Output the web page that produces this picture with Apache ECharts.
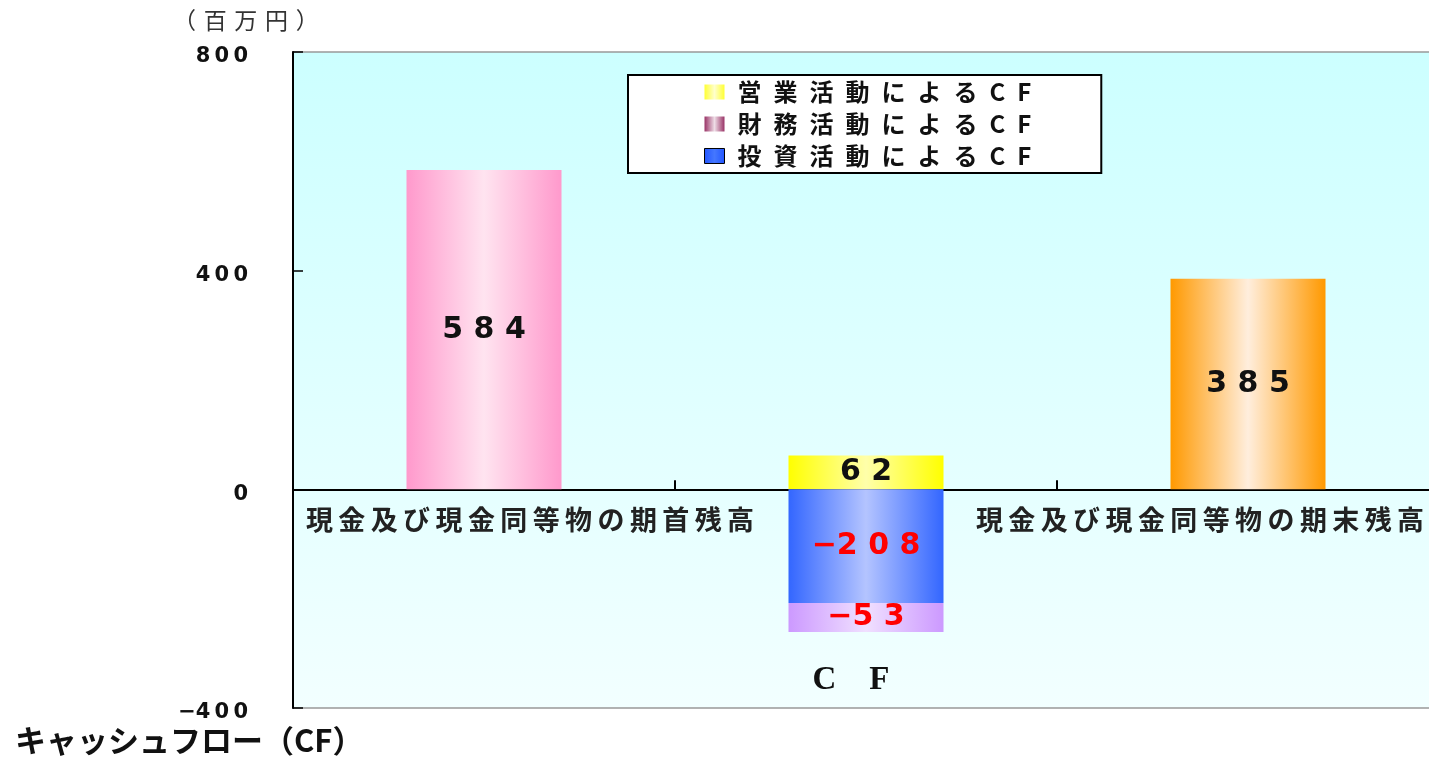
<!DOCTYPE html>
<html><head><meta charset="utf-8">
<script src="https://cdn.jsdelivr.net/npm/echarts@6/dist/echarts.min.js"></script>
<style>html,body{margin:0;padding:0;background:#fff}#c{width:1429px;height:757px}</style>
</head><body><div id="c"></div>
<script>
const categories = ['現金及び現金同等物の期首残高', 'CF', '現金及び現金同等物の期末残高'];
const openingBalance = [584, '-', '-'];
const operatingCF = ['-', 62, '-'];
const investingCF = ['-', -208, '-'];
const financingCF = ['-', -53, '-'];
const closingBalance = ['-', '-', 385];
const yTicks = [-400, 0, 400, 800];
const legendNames = ['営業活動によるCF', '財務活動によるCF', '投資活動によるCF'];

const sp = (s, gap) => s.split('').join(gap);
const hg = (edge, mid) => ({type:'linear',x:0,y:0,x2:1,y2:0,colorStops:[
  {offset:0,color:edge},{offset:0.5,color:mid},{offset:1,color:edge}]});
const fmtNum = (v, gap) => (v < 0 ? '−' : '') + sp(String(Math.abs(v)), gap);

const chart = echarts.init(document.getElementById('c'));
const FONT = '"Noto Sans CJK JP", "Liberation Sans", sans-serif';
const NUMFONT = '"DejaVu Sans", sans-serif';
const valLabel = (color) => ({show:true, position:'inside', fontFamily:NUMFONT,
  fontWeight:'bold', fontSize:30, color, formatter: p => fmtNum(p.value, ' ')});

chart.setOption({
  animation:false,
  title:[
    {text:sp('（百万円）', '\u2004'), left:168, top:4, textStyle:{fontFamily:FONT, fontSize:23, fontWeight:'normal', color:'#333'}},
    {text:'キャッシュフロー（CF）', left:10, top:720, textStyle:{fontFamily:FONT, fontSize:31, fontWeight:'bold', color:'#111'}}
  ],
  grid:{left:293, top:52, right:-10, bottom:49, containLabel:false, outerBoundsMode:'none',
    show:true, borderColor:'#999', borderWidth:1.5,
    backgroundColor:{type:'linear',x:0,y:0,x2:0,y2:1,colorStops:[{offset:0,color:'#ccffff'},{offset:1,color:'#f2ffff'}]}},
  legend:{
    orient:'vertical', left:628, top:75, icon:'rect', itemWidth:20, itemHeight:15, itemGap:8,
    padding:[5,70,5,76], backgroundColor:'#fff', borderColor:'#000', borderWidth:2,
    textStyle:{fontFamily:FONT, fontSize:24, fontWeight:'bold', color:'#111'},
    formatter: n => '\u2004' + sp(n, '\u2002'),
    data:[
      {name:legendNames[0], itemStyle:{color:hg('#ffff33','#ffffcc')}},
      {name:legendNames[1], itemStyle:{color:hg('#993366','#eedde6')}},
      {name:legendNames[2], itemStyle:{color:hg('#2255ff','#4477ff'), borderColor:'#000', borderWidth:1}}
    ]
  },
  xAxis:[
    {type:'category', data:categories,
      axisLine:{onZero:true, lineStyle:{color:'#000', width:2}},
      axisTick:{show:true, inside:true, length:9, lineStyle:{color:'#000', width:2}},
      axisLabel:{show:false}},
    {type:'category', data:categories, position:'bottom',
      axisLine:{show:false, onZero:false}, axisTick:{show:false}, splitLine:{show:false},
      axisLabel:{margin:-202, interval:0, fontFamily:FONT, fontSize:27, fontWeight:'bold', color:'#222',
        formatter: (v, i) => i === 1 ? '{cf|C\u2003F}' : (i === 0 ? '{l|' : '{r|') + sp(v, '\u2009') + '}',
        rich:{
          cf:{fontFamily:'"Liberation Serif", serif', fontSize:33, fontWeight:'bold', color:'#111', padding:[158,30,0,0]},
          l:{fontFamily:FONT, fontSize:27, fontWeight:'bold', color:'#222', padding:[0,0,0,92]},
          r:{fontFamily:FONT, fontSize:27, fontWeight:'bold', color:'#222', padding:[0,96,0,0]}
        }}}
  ],
  yAxis:{type:'value', min:-400, max:800, interval:400,
    axisLine:{show:true, lineStyle:{color:'#000', width:2}},
    axisTick:{show:true, inside:true, length:10, lineStyle:{color:'#000', width:1.5}},
    splitLine:{show:false},
    axisLabel:{margin:45, color:'#111',
      formatter: v => yTicks.includes(v) ? '{n|' + fmtNum(v, '\u2009') + '}' : '',
      rich:{n:{fontFamily:NUMFONT, fontSize:21, fontWeight:'bold', color:'#111', padding:[10,0,0,0]}}}
  },
  series:[
    {name:'期首残高', type:'bar', stack:'s', barWidth:155, data:openingBalance,
      itemStyle:{color:hg('#ff99cc','#ffe4f0')}, label:valLabel('#111')},
    {name:legendNames[0], type:'bar', stack:'s', barWidth:155, data:operatingCF,
      itemStyle:{color:hg('#ffff00','#ffffaa')}, label:valLabel('#111')},
    {name:legendNames[2], type:'bar', stack:'s', barWidth:155, data:investingCF,
      itemStyle:{color:hg('#3366ff','#b4c4ff')}, label:valLabel('#ff0000')},
    {name:legendNames[1], type:'bar', stack:'s', barWidth:155, data:financingCF,
      itemStyle:{color:hg('#cc99ff','#f0e0ff')}, label:valLabel('#ff0000')},
    {name:'期末残高', type:'bar', stack:'s', barWidth:155, data:closingBalance,
      itemStyle:{color:hg('#ff9900','#ffeedd')}, label:valLabel('#111')}
  ]
});
</script></body></html>
